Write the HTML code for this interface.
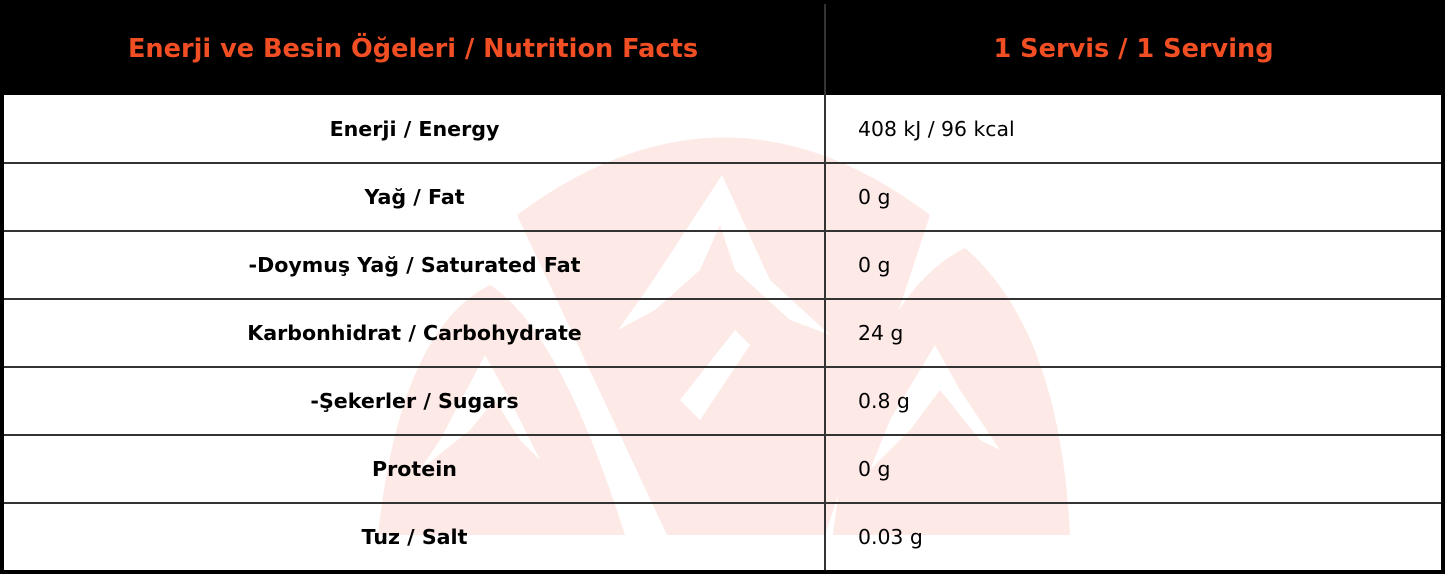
<!DOCTYPE html>
<html><head><meta charset="utf-8"><style>
html,body{margin:0;padding:0;background:#000;}
#wrap{position:relative;width:1445px;height:574px;background:#000;overflow:hidden;font-family:"DejaVu Sans","Liberation Sans",sans-serif;}
.hdr{position:absolute;top:0;height:95px;line-height:98px;color:#f24e24;font-weight:bold;font-size:25.6px;text-align:center;}
#body{position:absolute;left:4px;top:95px;width:1437px;height:475px;background:#fff;overflow:hidden;}
.row{position:absolute;left:0;width:1437px;height:68px;}
.l{position:absolute;left:0;width:821px;text-align:center;font-weight:bold;font-size:20.6px;line-height:68px;color:#000;}
.r{position:absolute;left:854px;font-size:20.4px;line-height:68px;color:#000;}
.hl{position:absolute;left:0;width:1437px;height:2px;background:#333;}
</style></head><body><div id="wrap">
<div class="hdr" style="left:0;width:826px;">Enerji ve Besin Öğeleri / Nutrition Facts</div>
<div class="hdr" style="left:826px;width:615px;">1 Servis / 1 Serving</div>
<div style="position:absolute;left:824px;top:4px;width:2px;height:91px;background:#333"></div>
<div id="body">
<svg width="1437" height="475" style="position:absolute;left:0;top:0">
<g transform="translate(-4,-95)" fill="#fde9e6">
<path d="M517,215 Q725,60 930,215 L825,535 L667,535 Z"/>
<path d="M378,535 Q400,330 490,285 Q560,330 625,535 Z"/>
<path d="M833,535 Q860,300 965,248 Q1060,330 1070,535 Z"/>
</g>
<g transform="translate(-4,-95)" fill="#fff">
<path d="M722,175 L650,285 L618,330 L655,310 L700,270 L720,225 L735,270 L790,320 L830,335 L770,280 Z"/>
<path d="M680,400 L735,330 L750,345 L700,420 Z"/>
<path d="M485,355 L440,440 L420,470 L470,430 L495,400 L520,440 L540,460 L510,400 Z"/>
<path d="M935,345 L890,420 L870,470 L910,430 L940,390 L980,440 L1000,450 L960,390 Z"/>
</g>
</svg>
<div style="position:absolute;left:820px;top:0;width:2px;height:475px;background:#333"></div>
<div class="row" style="top:0"><div class="l">Enerji / Energy</div><div class="r">408 kJ / 96 kcal</div></div>
<div class="hl" style="top:67px"></div>
<div class="row" style="top:68px"><div class="l">Yağ / Fat</div><div class="r">0 g</div></div>
<div class="hl" style="top:135px"></div>
<div class="row" style="top:136px"><div class="l">-Doymuş Yağ / Saturated Fat</div><div class="r">0 g</div></div>
<div class="hl" style="top:203px"></div>
<div class="row" style="top:204px"><div class="l">Karbonhidrat / Carbohydrate</div><div class="r">24 g</div></div>
<div class="hl" style="top:271px"></div>
<div class="row" style="top:272px"><div class="l">-Şekerler / Sugars</div><div class="r">0.8 g</div></div>
<div class="hl" style="top:339px"></div>
<div class="row" style="top:340px"><div class="l">Protein</div><div class="r">0 g</div></div>
<div class="hl" style="top:407px"></div>
<div class="row" style="top:408px"><div class="l">Tuz / Salt</div><div class="r">0.03 g</div></div>
</div>
</div></body></html>
